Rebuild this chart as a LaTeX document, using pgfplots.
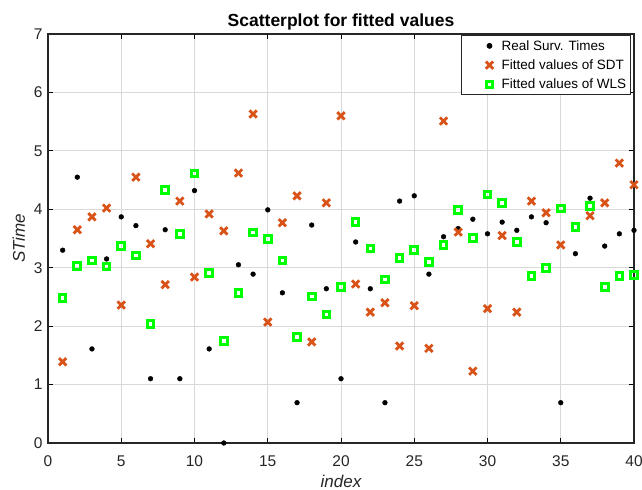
\documentclass[border=0pt]{standalone}
\usepackage{fontspec}
\setmainfont{Liberation Sans}
\usepackage{pgfplots}
\pgfplotsset{compat=1.18}
\definecolor{sdtorange}{RGB}{217,83,25}
\definecolor{wlsgreen}{RGB}{0,255,0}
\definecolor{ticktext}{RGB}{38,38,38}

% legend entry: wide blank cell with only the mark in it
\pgfplotsset{wideleg/.style={legend image code/.code={
    \path[draw=none, fill=none] (-26pt,0pt) rectangle (10pt,0pt);
    \draw[##1, only marks] plot coordinates {(0pt,0pt)};}}}

\begin{document}
\begin{tikzpicture}
\begin{axis}[
    scale only axis,
    width=586pt, height=409pt,
    xmin=0, xmax=40, ymin=0, ymax=7,
    xtick={0,5,...,40}, ytick={0,1,...,7},
    grid=major,
    major grid style={gray!30, line width=1pt},
    axis line style={black!85, line width=1.3pt},
    tick style={black, line width=1pt},
    tick align=inside,
    major tick length=5pt,
    ticklabel style={font=\fontsize{15.5}{17}\selectfont, text=ticktext},
    xticklabel style={yshift=-9pt},
    yticklabel style={xshift=-2pt},
    /pgf/number format/assume math mode=true,
    title={\bfseries Scatterplot for fitted values},
    title style={font=\fontsize{17.5}{19}\selectfont, yshift=-6pt},
    xlabel={\itshape index},
    ylabel={\itshape STime},
    label style={font=\fontsize{17}{19}\selectfont, text=ticktext},
    xlabel style={yshift=-2pt},
    ylabel style={yshift=2pt},
    legend style={at={(0.995,0.997)}, anchor=north east,
        font=\fontsize{13.5}{15}\selectfont, draw=black!85, line width=1pt,
        row sep=4pt, inner sep=2.5pt},
    legend cell align=left,
]
\addplot[only marks, mark=*, mark size=2.4pt, black, wideleg] coordinates {
(1,3.30) (2,4.55) (3,1.61) (4,3.15) (5,3.87) (6,3.72) (7,1.10) (8,3.65) (9,1.10) (10,4.32)
(11,1.61) (12,0.00) (13,3.05) (14,2.89) (15,3.99) (16,2.57) (17,0.69) (18,3.73) (19,2.64) (20,1.10)
(21,3.44) (22,2.64) (23,0.69) (24,4.14) (25,4.23) (26,2.89) (27,3.53) (28,3.67) (29,3.83) (30,3.58)
(31,3.78) (32,3.64) (33,3.87) (34,3.77) (35,0.69) (36,3.24) (37,4.19) (38,3.37) (39,3.58) (40,3.64)
};
\addlegendentry{Real Surv. Times}
\addplot[only marks, mark=x, mark size=5.2pt, sdtorange, line width=2.8pt, wideleg] coordinates {
(1,1.39) (2,3.65) (3,3.87) (4,4.02) (5,2.36) (6,4.55) (7,3.41) (8,2.71) (9,4.14) (10,2.84)
(11,3.92) (12,3.63) (13,4.62) (14,5.63) (15,2.07) (16,3.77) (17,4.23) (18,1.73) (19,4.11) (20,5.60)
(21,2.72) (22,2.24) (23,2.40) (24,1.66) (25,2.35) (26,1.62) (27,5.51) (28,3.61) (29,1.23) (30,2.30)
(31,3.55) (32,2.24) (33,4.14) (34,3.94) (35,3.39) (37,3.89) (38,4.11) (39,4.79) (40,4.42)
};
\addlegendentry{Fitted values of SDT}
\addplot[only marks, mark=square, mark size=3.3pt, wlsgreen, line width=3pt, wideleg] coordinates {
(1,2.48) (2,3.03) (3,3.12) (4,3.02) (5,3.37) (6,3.21) (7,2.04) (8,4.33) (9,3.58) (10,4.61)
(11,2.91) (12,1.75) (13,2.57) (14,3.60) (15,3.49) (16,3.12) (17,1.81) (18,2.51) (19,2.20) (20,2.67)
(21,3.78) (22,3.33) (23,2.80) (24,3.17) (25,3.30) (26,3.10) (27,3.39) (28,3.99) (29,3.51) (30,4.25)
(31,4.11) (32,3.44) (33,2.86) (34,3.00) (35,4.01) (36,3.70) (37,4.06) (38,2.67) (39,2.86) (40,2.88)
};
\addlegendentry{Fitted values of WLS}
\end{axis}
\pgfresetboundingbox
\useasboundingbox ([xshift=-48pt,yshift=-47pt]current axis.south west)
    rectangle ([xshift=8pt,yshift=34pt]current axis.north east);
\end{tikzpicture}
\end{document}
